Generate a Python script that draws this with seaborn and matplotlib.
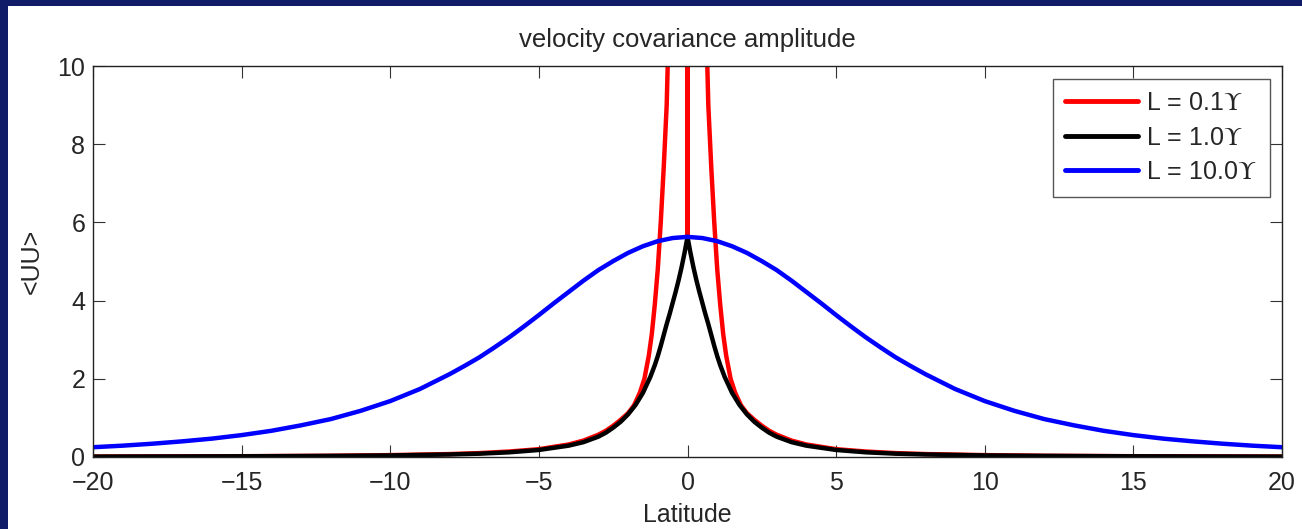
import numpy as np
import pandas as pd
import matplotlib
matplotlib.use("Agg")
import matplotlib.pyplot as plt
from matplotlib.patches import Rectangle
import seaborn as sns

# ---- data (half-curves, mirrored about x = 0) ----
lat_red = [0.0, 0.1, 0.6, 0.7, 0.8, 0.9, 1.0, 1.1, 1.2, 1.3, 1.45, 1.6, 1.8, 2.0, 2.25,
           2.5, 2.75, 3.0, 3.5, 4.0, 5.0, 6.0, 7.0, 8.0, 10.0, 12.0, 15.0, 20.0]
uu_red = [5.63, 200.0, 12.0, 9.0, 7.4, 6.0, 4.8, 3.9, 3.15, 2.6, 2.0, 1.65, 1.32, 1.12, 0.95,
          0.80, 0.67, 0.57, 0.42, 0.32, 0.20, 0.14, 0.10, 0.075, 0.048, 0.032, 0.02, 0.011]

lat_black = [0.0, 0.1, 0.2, 0.3, 0.4, 0.5, 0.6, 0.7, 0.8, 0.9, 1.0, 1.1, 1.25, 1.5, 1.75,
             2.0, 2.25, 2.5, 2.75, 3.0, 3.5, 4.0, 5.0, 6.0, 7.0, 8.0, 10.0, 12.0, 15.0, 20.0]
uu_black = [5.63, 5.22, 4.85, 4.52, 4.22, 3.94, 3.66, 3.40, 3.12, 2.84, 2.58, 2.35, 2.05,
            1.64, 1.33, 1.09, 0.90, 0.75, 0.62, 0.52, 0.38, 0.29, 0.18, 0.12, 0.085, 0.065,
            0.04, 0.028, 0.018, 0.01]

lat_blue = [0, 0.5, 1, 1.5, 2, 2.5, 3, 3.5, 4, 4.5, 5, 5.5, 6, 6.5, 7, 7.5, 8, 9, 10,
            11, 12, 13, 14, 15, 16, 17, 18, 19, 20]
uu_blue = [5.63, 5.60, 5.52, 5.39, 5.22, 5.01, 4.78, 4.51, 4.22, 3.93, 3.63, 3.34, 3.06,
           2.80, 2.55, 2.33, 2.12, 1.74, 1.43, 1.18, 0.97, 0.81, 0.67, 0.56, 0.47, 0.40,
           0.34, 0.29, 0.25]

labels = [r"L = 0.1$\Upsilon$", r"L = 1.0$\Upsilon$", r"L = 10.0$\Upsilon$"]
colors = ["#ff0000", "#000000", "#0000ff"]


def mirror(x, y):
    x = np.asarray(x, float)
    y = np.asarray(y, float)
    return np.concatenate([-x[:0:-1], x]), np.concatenate([y[:0:-1], y])


sns.set_style("ticks", {"xtick.direction": "in", "ytick.direction": "in"})
plt.rcParams["font.family"] = ["Liberation Sans", "DejaVu Sans"]
plt.rcParams["mathtext.fontset"] = "stix"
plt.rcParams["lines.solid_joinstyle"] = "round"

fig = plt.figure(figsize=(13.02, 5.29), dpi=100, facecolor="#101c68")
fig.patches.append(Rectangle((8 / 1302, 0), 1, 1 - 6 / 529, transform=fig.transFigure,
                             facecolor="white", edgecolor="none", zorder=-1))
ax = fig.add_axes([93 / 1302, 72 / 529, 1189 / 1302, 391 / 529])

for (lx, ly), lab, col in zip([(lat_red, uu_red), (lat_black, uu_black), (lat_blue, uu_blue)],
                              labels, colors):
    xs, ys = mirror(lx, ly)
    df = pd.DataFrame({"Latitude": xs, "UU": ys})
    sns.lineplot(data=df, x="Latitude", y="UU", color=col, linewidth=3.2, label=lab,
                 ax=ax, sort=False, estimator=None)

ax.set_xlim(-20, 20)
ax.set_ylim(0, 10)
ax.set_xticks(np.arange(-20, 21, 5))
ax.set_yticks(np.arange(0, 11, 2))
ax.tick_params(axis="both", which="both", direction="in", length=8.6, width=0.8,
               color="#333333", labelsize=18, top=True, right=True)
ax.tick_params(axis="x", pad=10)
ax.tick_params(axis="y", pad=5.5)
for s in ax.spines.values():
    s.set_visible(True)
    s.set_color("#222222")
    s.set_linewidth(1.0)

ax.set_title("velocity covariance amplitude", fontsize=18.5, pad=14)
ax.set_xlabel("Latitude", fontsize=18, labelpad=6)
ax.set_ylabel("<UU>", fontsize=18, labelpad=10)

leg = ax.legend(loc="upper right", fontsize=18, frameon=True, fancybox=False,
                framealpha=1, edgecolor="#555555", handlelength=2.9, handletextpad=0.35,
                labelspacing=0.42, borderpad=0.5, borderaxespad=0.5)
leg.get_frame().set_linewidth(1.0)
for ln in leg.get_lines():
    ln.set_linewidth(3.5)

fig.savefig("out.png", dpi=100, facecolor=fig.get_facecolor())
